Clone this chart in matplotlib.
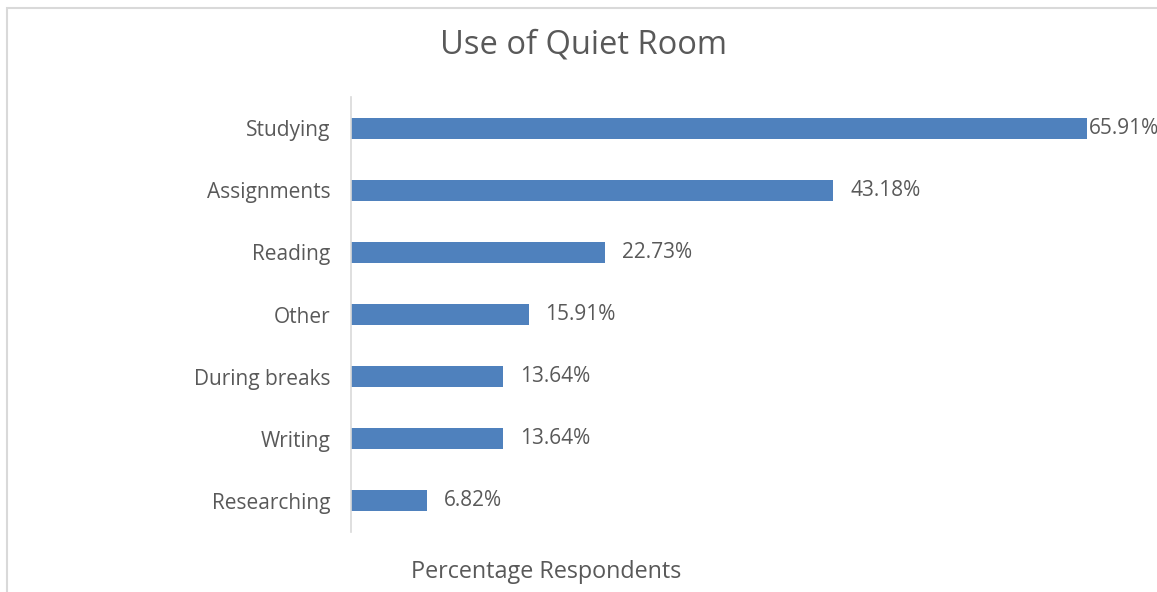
import matplotlib.pyplot as plt
from matplotlib.patches import Rectangle

categories = ["Studying", "Assignments", "Reading", "Other",
              "During breaks", "Writing", "Researching"]
percentages = [65.91, 43.18, 22.73, 15.91, 13.64, 13.64, 6.82]

W, H = 1157, 592
plt.rcParams['font.family'] = ['Open Sans', 'DejaVu Sans']
text_color = '#595959'

fig = plt.figure(figsize=(W / 100, H / 100), dpi=100)

# light chart border, running off the right and bottom edges
fig.patches.append(Rectangle((7 / W, -0.1), 1.2, (H - 8) / H + 0.1,
                             transform=fig.transFigure, fill=False,
                             edgecolor='#D9D9D9', linewidth=1.5))

left, right = 351, 1133
top, bottom = 97, 532
ax = fig.add_axes([left / W, 1 - bottom / H, (right - left) / W, (bottom - top) / H])

y = list(range(len(categories)))
ax.barh(y, percentages, height=0.34, color='#4F81BD')
ax.set_ylim(len(categories) - 0.5, -0.5)
ax.set_xlim(0, 70)

ax.set_yticks(y)
ax.set_yticklabels(categories, fontsize=15, color=text_color)
ax.tick_params(axis='y', length=0, pad=15)
ax.set_xticks([])

for s in ['top', 'right', 'bottom']:
    ax.spines[s].set_visible(False)
ax.spines['left'].set_color('#D9D9D9')
ax.spines['left'].set_linewidth(1.2)

top_value = max(percentages)
for yi, v in zip(y, percentages):
    off = 1 if v == top_value else 12
    ax.annotate(f"{v:.2f}%", (v, yi), xytext=(off, 0), textcoords='offset points',
                va='center', ha='left', fontsize=15, color=text_color,
                annotation_clip=False)

fig.text(584 / W, 1 - 45 / H, "Use of Quiet Room", ha='center', va='center',
         fontsize=23.5, color=text_color)
fig.text(546 / W, 1 - 572 / H, "Percentage Respondents", ha='center', va='center',
         fontsize=16.8, color=text_color)

fig.savefig('out.png', dpi=100, facecolor='white')
